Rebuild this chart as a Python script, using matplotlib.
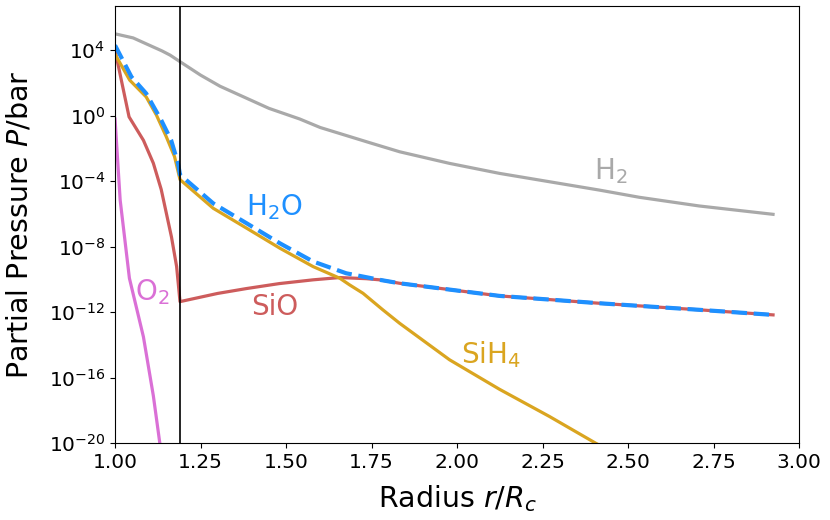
import matplotlib
matplotlib.use('Agg')
import matplotlib.pyplot as plt
import numpy as np

# radius r/Rc and log10 partial pressure
r_h2 = [1.00, 1.053, 1.089, 1.137, 1.161, 1.19, 1.25, 1.307, 1.45, 1.54, 1.60, 1.745, 1.832, 1.978, 2.124, 2.27, 2.416, 2.533, 2.708, 2.924]
p_h2 = [5.0, 4.75, 4.41, 3.96, 3.70, 3.3, 2.48, 1.8, 0.45, -0.2, -0.72, -1.65, -2.2, -2.91, -3.52, -4.03, -4.54, -4.98, -5.51, -6.02]

r_h2o = [1.00, 1.048, 1.091, 1.135, 1.164, 1.184, 1.19, 1.287, 1.385, 1.482, 1.579, 1.676, 1.774, 1.832, 2.124, 2.416, 2.708, 2.924]
p_h2o = [4.3, 2.37, 1.36, -0.27, -1.49, -2.9, -3.6, -5.35, -6.57, -7.79, -8.9, -9.62, -10.02, -10.23, -11.0, -11.45, -11.85, -12.16]

r_sih4 = [1.00, 1.043, 1.091, 1.121, 1.150, 1.174, 1.19, 1.287, 1.385, 1.482, 1.579, 1.657, 1.686, 1.725, 1.783, 1.832, 1.978, 2.124, 2.27, 2.406, 2.6, 2.924]
p_sih4 = [3.75, 2.17, 1.15, 0.04, -1.29, -2.5, -3.9, -5.65, -6.87, -8.09, -9.21, -9.92, -10.33, -10.84, -11.85, -12.67, -14.9, -16.7, -18.36, -20.0, -22.2, -25.9]

r_sio = [1.00, 1.041, 1.083, 1.112, 1.135, 1.165, 1.18, 1.19, 1.30, 1.385, 1.48, 1.579, 1.657, 1.735, 1.774, 1.832, 2.124, 2.416, 2.708, 2.924]
p_sio = [4.0, -0.07, -1.5, -2.9, -4.5, -7.4, -9.2, -11.35, -10.85, -10.55, -10.25, -10.02, -9.88, -9.95, -10.02, -10.23, -11.0, -11.45, -11.85, -12.16]

r_o2 = [1.00, 1.015, 1.042, 1.083, 1.112, 1.131, 1.15]
p_o2 = [-0.2, -5.15, -9.92, -13.5, -17.1, -20.0, -22.5]

r_cond = 1.19

fig = plt.figure(figsize=(8.3, 5.2), dpi=100)
ax = fig.add_subplot(111)
fig.subplots_adjust(left=0.1386, right=0.9627, top=0.9885, bottom=0.1475)

lw = 2.3
ax.semilogy(r_h2, 10.0**np.array(p_h2), color='darkgray', lw=lw)
ax.semilogy(r_o2, 10.0**np.array(p_o2), color='orchid', lw=lw)
ax.semilogy(r_sio, 10.0**np.array(p_sio), color='indianred', lw=lw)
ax.semilogy(r_sih4, 10.0**np.array(p_sih4), color='goldenrod', lw=lw)
ax.semilogy(r_h2o, 10.0**np.array(p_h2o), color='dodgerblue', lw=3, ls='--')
ax.axvline(r_cond, color='black', lw=1.2)

fs = 20
ax.text(2.45, 10**-3.4, r'H$_2$', color='darkgray', fontsize=fs, ha='center', va='center')
ax.text(1.467, 10**-5.57, r'H$_2$O', color='dodgerblue', fontsize=fs, ha='center', va='center')
ax.text(1.467, 10**-11.67, 'SiO', color='indianred', fontsize=fs, ha='center', va='center')
ax.text(2.10, 10**-14.6, r'SiH$_4$', color='goldenrod', fontsize=fs, ha='center', va='center')
ax.text(1.108, 10**-10.76, r'O$_2$', color='orchid', fontsize=fs, ha='center', va='center')

ax.set_xlim(1.0, 3.0)
ax.set_ylim(1e-20, 10**6.7)
ax.set_yticks([1e-20, 1e-16, 1e-12, 1e-8, 1e-4, 1e0, 1e4])
ax.minorticks_off()
ax.set_xticks(np.arange(1.0, 3.01, 0.25))
ax.tick_params(labelsize=14.5)
ax.set_xlabel(r'Radius $r/R_c$', fontsize=20.5, labelpad=8)
ax.set_ylabel(r'Partial Pressure $P$/bar', fontsize=20.5, labelpad=11)

plt.savefig('out.png', dpi=100)
plt.close()
